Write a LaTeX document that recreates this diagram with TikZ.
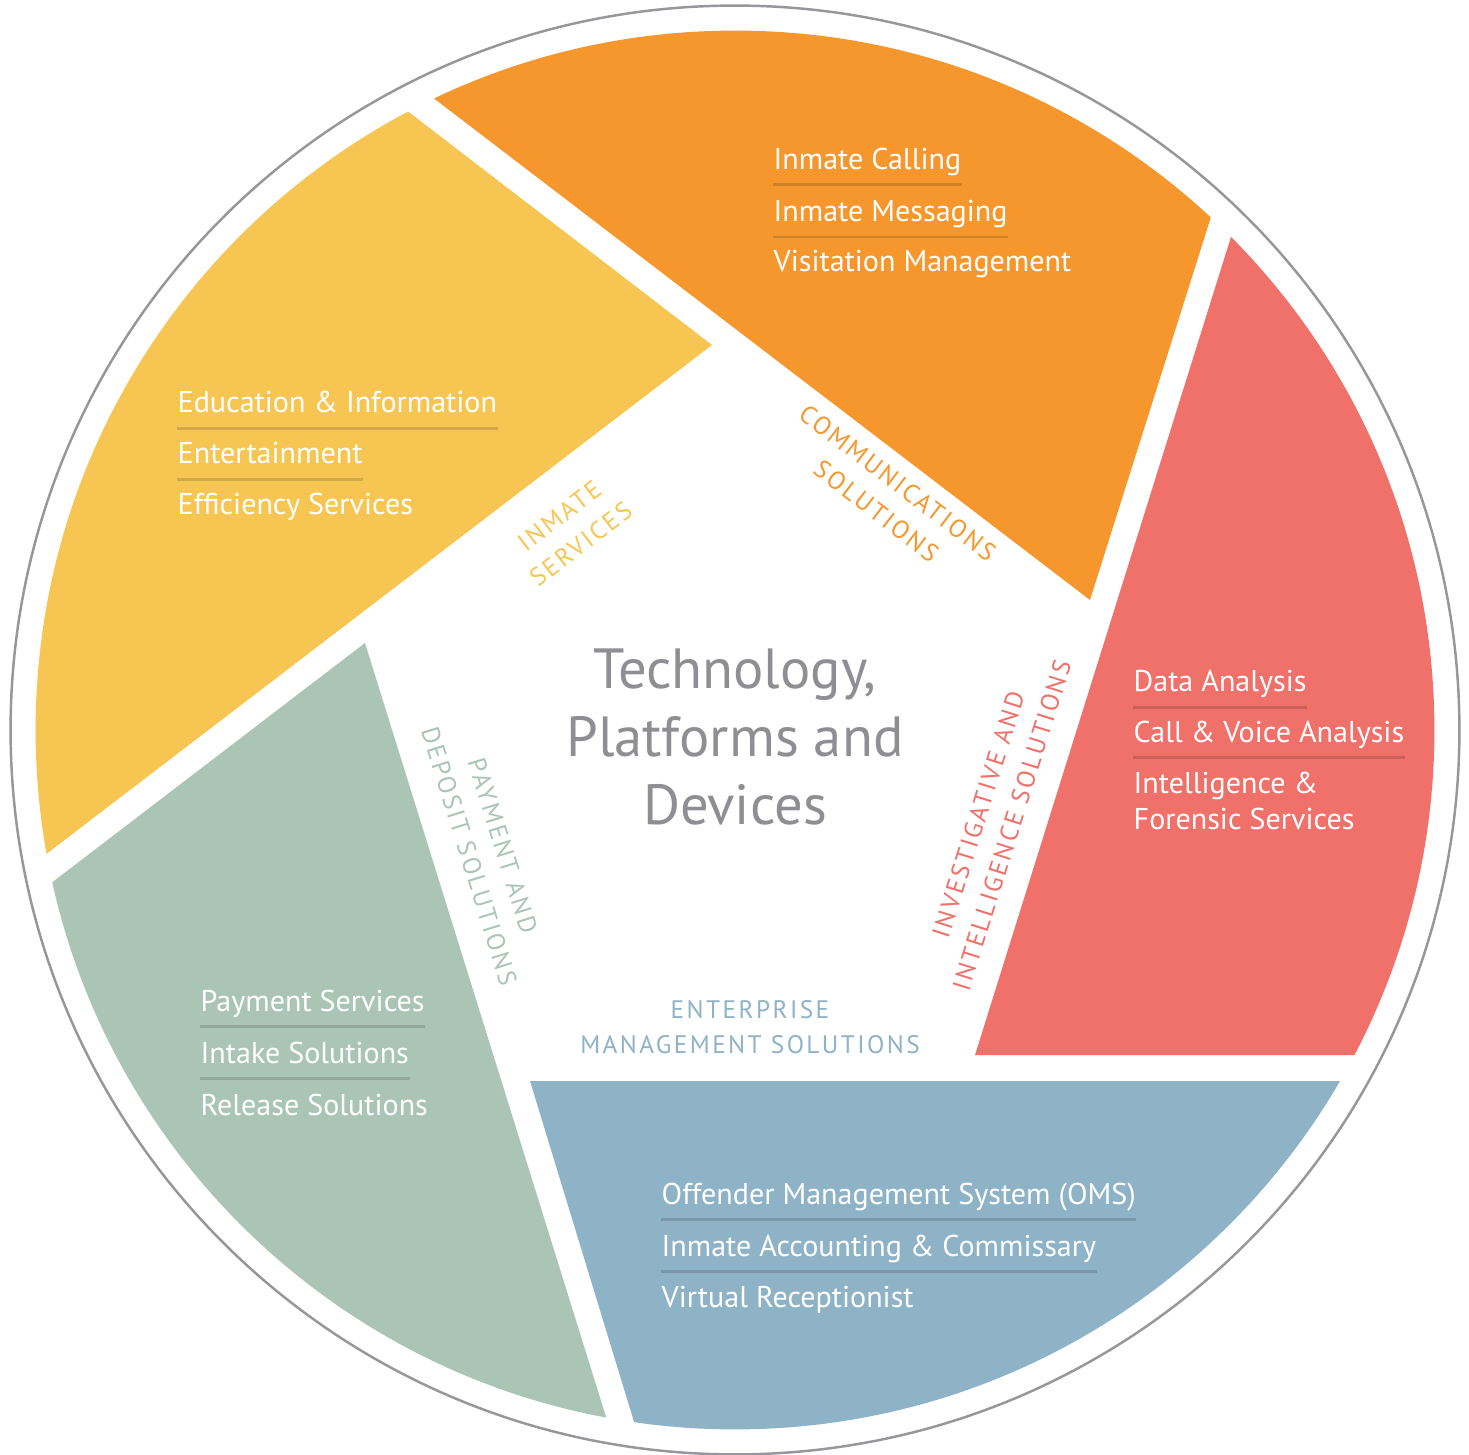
\documentclass[tikz,border=0pt]{standalone}
\usepackage{fontspec}
\setmainfont{PT Sans}
\usetikzlibrary{calc}

\definecolor{segyellow}{RGB}{247,198,82}
\definecolor{segorange}{RGB}{246,151,46}
\definecolor{segred}{RGB}{240,112,106}
\definecolor{segblue}{RGB}{142,178,198}
\definecolor{seggreen}{RGB}{170,197,181}
\definecolor{rimgray}{RGB}{150,150,155}
\definecolor{hubgray}{RGB}{142,142,147}

\tikzset{
  item/.style={anchor=base west, inner sep=0pt, text=white, font=\fontsize{8.55}{10.5}\selectfont, align=left},
  uline/.style={line width=0.85pt},
  tag/.style={align=center, inner sep=0pt, font=\fontsize{7.2}{10}\selectfont\addfontfeature{LetterSpace=9.5}},
  hub/.style={align=center, inner sep=0pt, text=hubgray, font=\fontsize{16.1}{19.4}\selectfont},
}

\begin{document}
\begin{tikzpicture}[x=0.01cm, y=-0.01cm]
    \useasboundingbox (0,0) rectangle (1469,1455);

    % apex of every segment
    \coordinate (o) at (735,730);
    \coordinate (ys) at (712,345);
    \coordinate (os) at (1090,600);
    \coordinate (rs) at (975,1055);
    \coordinate (bs) at (530,1081);
    \coordinate (gs) at (365,643);

    \draw[rimgray, line width=0.7pt] (o) circle (7.24cm);

    \begin{scope}
        \clip (o) circle (6.99cm);
        \fill[segyellow] (ys) -- ($(ys)!6!(410,113)$) -- ($(ys)!6!(45,855)$) -- cycle;
        \fill[segorange] (os) -- ($(os)!6!(436,100)$) -- ($(os)!6!(1210,220)$) -- cycle;
        \fill[segred] (rs) -- ($(rs)!6!(1230,240)$) -- ($(rs)!6!(1357,1055)$) -- cycle;
        \fill[segblue] (bs) -- ($(bs)!6!(1340,1081)$) -- ($(bs)!6!(635,1425)$) -- cycle;
        \fill[seggreen] (gs) -- ($(gs)!6!(607,1420)$) -- ($(gs)!6!(50,884)$) -- cycle;
    \end{scope}

    % centre
    \node[hub] (hub) at (735,737) {Technology,\\Platforms and\\Devices};

    % section names
    \node[tag, text=segyellow, rotate=37.4] (inmatetag) at (570,530) {INMATE\\SERVICES};
    \node[tag, text=segorange, rotate=-37.4] (commtag) at (887,497) {COMMUNICATIONS\\SOLUTIONS};
    \node[tag, text=segred, rotate=72.6] (invtag) at (995,820) {INVESTIGATIVE AND\\INTELLIGENCE SOLUTIONS};
    \node[tag, text=segblue] (enttag) at (750,1027) {ENTERPRISE\\MANAGEMENT SOLUTIONS};
    \node[tag, text=seggreen, rotate=-72.7] (paytag) at (486,851) {PAYMENT AND\\DEPOSIT SOLUTIONS};

    % inmate services
    \node[item] (edu) at (177,413) {Education \& Information};
    \node[item] (ent) at (177,464) {Entertainment};
    \node[item] (eff) at (177,515) {Efficiency Services};
    \draw[uline, segyellow!85!black] ($(edu.base west)+(0,15.5)$) -- ($(edu.base east)+(0,15.5)$);
    \draw[uline, segyellow!85!black] ($(ent.base west)+(0,15.5)$) -- ($(ent.base east)+(0,15.5)$);

    % communications solutions
    \node[item] (call) at (773,169.5) {Inmate Calling};
    \node[item] (msg) at (773,221.5) {Inmate Messaging};
    \node[item] (visit) at (773,272) {Visitation Management};
    \draw[uline, segorange!85!black] ($(call.base west)+(0,15.5)$) -- ($(call.base east)+(0,15.5)$);
    \draw[uline, segorange!85!black] ($(msg.base west)+(0,15.5)$) -- ($(msg.base east)+(0,15.5)$);

    % investigative and intelligence solutions
    \node[item] (data) at (1133,692) {Data Analysis};
    \node[item] (voice) at (1133,742) {Call \& Voice Analysis};
    \node[item] (intel) at (1133,830) {Intelligence \&\\Forensic Services};
    \draw[uline, segred!85!black] ($(data.base west)+(0,15.5)$) -- ($(data.base east)+(0,15.5)$);
    \draw[uline, segred!85!black] ($(voice.base west)+(0,15.5)$) -- ($(voice.base east)+(0,15.5)$);

    % enterprise management solutions
    \node[item] (oms) at (661,1204) {Offender Management System (OMS)};
    \node[item] (acct) at (661,1256) {Inmate Accounting \& Commissary};
    \node[item] (recep) at (661,1307) {Virtual Receptionist};
    \draw[uline, segblue!85!black] ($(oms.base west)+(0,15.5)$) -- ($(oms.base east)+(0,15.5)$);
    \draw[uline, segblue!85!black] ($(acct.base west)+(0,15.5)$) -- ($(acct.base east)+(0,15.5)$);

    % payment and deposit solutions
    \node[item] (pay) at (200,1011) {Payment Services};
    \node[item] (intake) at (200,1063) {Intake Solutions};
    \node[item] (release) at (200,1115) {Release Solutions};
    \draw[uline, seggreen!85!black] ($(pay.base west)+(0,15.5)$) -- ($(pay.base east)+(0,15.5)$);
    \draw[uline, seggreen!85!black] ($(intake.base west)+(0,15.5)$) -- ($(intake.base east)+(0,15.5)$);
\end{tikzpicture}
\end{document}
